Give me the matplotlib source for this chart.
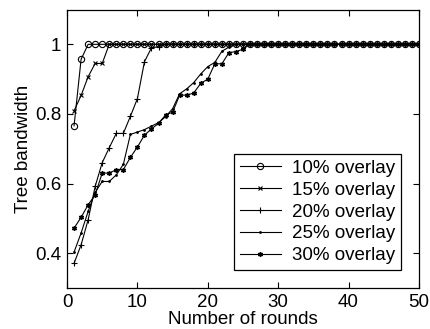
import matplotlib
matplotlib.use("Agg")
import matplotlib.pyplot as plt

rounds = list(range(1, 51))

ov10 = [0.766, 0.957] + [1.0] * 48
ov15 = [0.809, 0.853, 0.907, 0.945, 0.945] + [1.0] * 45
ov20 = [0.371, 0.424, 0.496, 0.592, 0.660, 0.703, 0.744, 0.744, 0.793, 0.844,
        0.950, 0.990, 0.993] + [1.0] * 37
ov25 = [0.403, 0.458, 0.520, 0.575, 0.606, 0.606, 0.625, 0.655, 0.741, 0.748,
        0.755, 0.765, 0.775, 0.792, 0.815, 0.858, 0.872, 0.890, 0.915, 0.936,
        0.948, 0.980, 0.992] + [1.0] * 27
ov30 = [0.472, 0.503, 0.539, 0.568, 0.630, 0.630, 0.640, 0.640, 0.675, 0.705,
        0.739, 0.757, 0.773, 0.797, 0.805, 0.854, 0.854, 0.860, 0.888, 0.900,
        0.944, 0.944, 0.976, 0.979, 0.986] + [1.0] * 25

labels = ["10% overlay", "15% overlay", "20% overlay", "25% overlay", "30% overlay"]
xticks = [0, 10, 20, 30, 40, 50]
yticks = [0.4, 0.6, 0.8, 1.0]
yticklabels = ["0.4", "0.6", "0.8", "1"]

plt.rcParams["font.family"] = ["Liberation Sans", "DejaVu Sans"]
plt.rcParams["font.size"] = 13.5

fig = plt.figure(figsize=(4.31, 3.29), dpi=100)
ax = fig.add_axes([0.1555, 0.1246, 0.8165, 0.8465])

styles = [
    dict(marker="o", markersize=4.5, markerfacecolor="none", markeredgewidth=0.8),
    dict(marker="x", markersize=3.5, markeredgewidth=0.8),
    dict(marker="+", markersize=5, markeredgewidth=0.8),
    dict(marker=".", markersize=2),
    dict(marker=(6, 2, 0), markersize=3.5, markeredgewidth=1.0),
]
for ys, lab, st in zip([ov10, ov15, ov20, ov25, ov30], labels, styles):
    ax.plot(rounds, ys, color="black", linewidth=0.8, label=lab, **st)

ax.set_xlim(0, 50)
ax.set_ylim(0.3, 1.1)
ax.set_xticks(xticks)
ax.set_yticks(yticks)
ax.set_yticklabels(yticklabels)
ax.tick_params(direction="in", top=True, right=True, length=4, width=0.8, pad=4)
for sp in ax.spines.values():
    sp.set_linewidth(0.9)
ax.set_xlabel("Number of rounds", labelpad=0)
ax.set_ylabel("Tree bandwidth", labelpad=2)

leg = ax.legend(loc="lower right", bbox_to_anchor=(0.949, 0.065), borderaxespad=0,
                fancybox=False, edgecolor="black", framealpha=1, handlelength=2.2,
                labelspacing=0.25, borderpad=0.3, handletextpad=0.6)
leg.get_frame().set_linewidth(0.9)

fig.savefig("out.png", dpi=100)
